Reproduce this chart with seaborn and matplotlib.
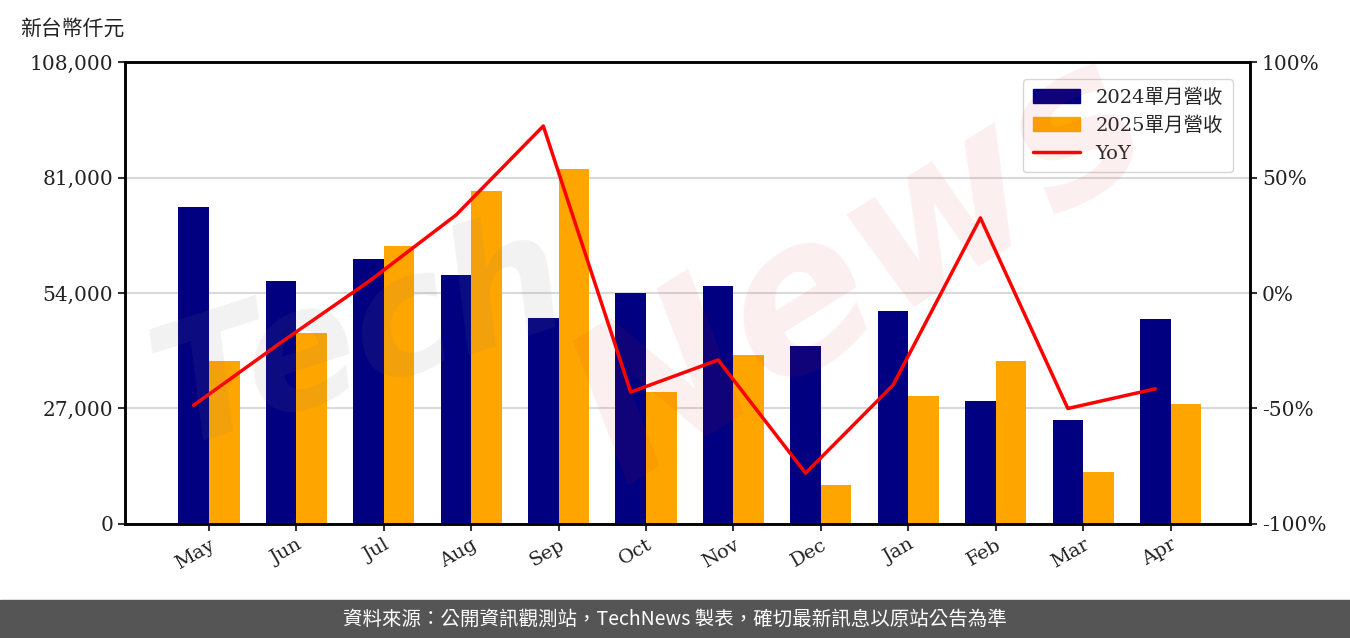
# Import Libraries
import numpy as np
import pandas as pd
import matplotlib
matplotlib.use("Agg")
import matplotlib.pyplot as plt
import seaborn as sns
from matplotlib.patches import Patch
from matplotlib.lines import Line2D

# Data
months = ["May", "Jun", "Jul", "Aug", "Sep", "Oct", "Nov", "Dec", "Jan", "Feb", "Mar", "Apr"]
rev_2024 = [74100, 56800, 61900, 58200, 48200, 54000, 55600, 41600, 49800, 28800, 24300, 47900]
rev_2025 = [38100, 44700, 65000, 77800, 83000, 30900, 39500, 9100, 29900, 38100, 12200, 28100]
yoy = [-48.6, -21.4, 4.9, 33.7, 72.3, -42.9, -29.0, -78.0, -39.9, 32.5, -50.0, -41.5]
series_names = ["2024單月營收", "2025單月營收"]
left_ticks = [0, 27000, 54000, 81000, 108000]
right_ticks = [-100, -50, 0, 50, 100]

df = pd.DataFrame({
    "month": months * 2,
    "value": rev_2024 + rev_2025,
    "series": [series_names[0]] * len(months) + [series_names[1]] * len(months),
})

sns.set_style("white")
serif = ["DejaVu Serif", "Noto Sans CJK TC"]
cjk = ["Noto Sans CJK TC", "DejaVu Sans"]
plt.rcParams["font.family"] = serif

fig = plt.figure(figsize=(13.5, 6.38), dpi=100)
ax = fig.add_axes([0.0926, 0.1787, 0.8334, 0.7241])

# Bars
sns.barplot(
    data=df, x="month", y="value", hue="series",
    palette=["#000080", "#FFA500"], width=0.7, saturation=1,
    linewidth=0, edgecolor="none",
    ax=ax, zorder=2, legend=False
)
ax.set_ylim(0, 108000)
ax.set_xlim(-0.96, 11.91)
ax.set_yticks(left_ticks)
ax.set_yticklabels([f"{t:,}" for t in left_ticks], fontsize=14.5, color="#222222")
ax.set_xlabel("")
ax.set_ylabel("")
ax.yaxis.grid(True, color="#d9d9d9", linewidth=1.5, zorder=0)
ax.set_axisbelow(True)
plt.setp(ax.get_xticklabels(), rotation=30, ha="right", fontsize=14,
         rotation_mode="anchor", color="#222222")
ax.tick_params(axis="both", length=5, width=1.5, color="#333333", direction="out",
               bottom=True, left=True)

# YoY line
ax2 = ax.twinx()
ax2.plot(np.arange(len(months)) - 0.175, yoy, color="#FF0000", linewidth=2.5, zorder=3)
ax2.set_ylim(-100, 100)
ax2.set_yticks(right_ticks)
ax2.set_yticklabels([f"{t}%" for t in right_ticks], fontsize=14.5, color="#222222")
ax2.tick_params(axis="y", length=5, width=1.5, color="#333333", direction="out", right=True)

for a in (ax, ax2):
    for s in a.spines.values():
        s.set_color("black")
        s.set_linewidth(1.8)

# Legend
handles = [
    Patch(color="#000080", label=series_names[0]),
    Patch(color="#FFA500", label=series_names[1]),
    Line2D([0], [0], color="#FF0000", linewidth=2.5, label="YoY"),
]
ax2.legend(handles=handles, loc="upper right", fontsize=14, frameon=True,
           fancybox=True, edgecolor="#cccccc", handlelength=2.4, borderpad=0.5,
           bbox_to_anchor=(0.993, 0.985))

# Watermark
fig.text(0.10, 0.30, "Tech", fontsize=120, fontweight="bold", style="italic",
         color="#808080", alpha=0.10, rotation=18, family="DejaVu Sans", zorder=10)
fig.text(0.40, 0.25, "News", fontsize=150, fontweight="bold", style="italic",
         color="#e03030", alpha=0.08, rotation=32, family="DejaVu Sans", zorder=10)

# Unit label
fig.text(0.015, 0.955, "新台幣仟元", fontsize=15, family=cjk, va="center", ha="left",
         color="#222222")

# Footer
fig.patches.append(plt.Rectangle((0, 0), 1, 0.06, transform=fig.transFigure,
                                 color="#555555", zorder=0))
fig.text(0.5, 0.03, "資料來源：公開資訊觀測站，TechNews 製表，確切最新訊息以原站公告為準",
         fontsize=14, color="white", family=cjk, ha="center", va="center")

plt.savefig("out.png", dpi=100)
